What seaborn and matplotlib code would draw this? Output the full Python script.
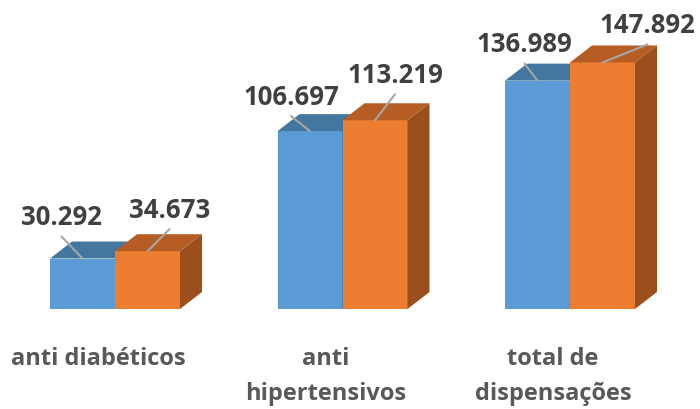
import matplotlib
matplotlib.use("Agg")
import matplotlib.pyplot as plt
import matplotlib.transforms as mtransforms
import matplotlib.colors as mcolors
from matplotlib.patches import Polygon
import seaborn as sns
import pandas as pd

# ---- data ----
categories = ["anti diabéticos", "anti\nhipertensivos", "total de\ndispensações"]
series_names = ["série 1", "série 2"]
values_s1 = [30292, 106697, 136989]
values_s2 = [34673, 113219, 147892]

# ---- style ----
front_colors = ["#5B9BD5", "#ED7D31"]
top_colors = ["#44779F", "#B55D24"]
side_colors = ["#3C6A93", "#9A4F1C"]
# label offsets in pixels (x right, y up) relative to the front top-centre of each bar
label_offsets = [[(-21, 42), (-19, 35), (-13, 37)],
                 [(22, 42), (20, 46), (45, 38)]]
depth_px = (22, 17)

rows = []
for c, v in zip(categories, values_s1):
    rows.append({"cat": c, "series": series_names[0], "value": v})
for c, v in zip(categories, values_s2):
    rows.append({"cat": c, "series": series_names[1], "value": v})
df = pd.DataFrame(rows)

sns.set_theme(style="white")
plt.rcParams["font.family"] = ["Open Sans", "DejaVu Sans"]

fig = plt.figure(figsize=(7, 4.1), dpi=100)
ax = fig.add_axes([0, 100 / 410, 1, 310 / 410])
sns.barplot(data=df, x="cat", y="value", hue="series", order=categories,
            hue_order=series_names, palette=front_colors, width=0.5714,
            saturation=1, legend=False, ax=ax, linewidth=0)

xlim = (-0.5055, 2.5714)
ylim = (0, 185960)
ax.set_xlim(*xlim)
ax.set_ylim(*ylim)
ddx = depth_px[0] / 700 * (xlim[1] - xlim[0])
ddy = depth_px[1] / 310 * (ylim[1] - ylim[0])

front_rgba = [mcolors.to_rgba(c) for c in front_colors]
bars = list(ax.patches)
counters = [0, 0]
for p in bars:
    fc = p.get_facecolor()
    s = min(range(2), key=lambda k: sum((a - b) ** 2 for a, b in zip(fc, front_rgba[k])))
    idx = counters[s]
    counters[s] += 1
    x0 = p.get_x()
    w = p.get_width()
    x1 = x0 + w
    h = p.get_height()
    z = 2 + s
    p.set_zorder(z)
    top = Polygon([(x0, h), (x1, h), (x1 + ddx, h + ddy), (x0 + ddx, h + ddy)],
                  closed=True, facecolor=top_colors[s], edgecolor="none", zorder=z + 0.1)
    side = Polygon([(x1, 0), (x1 + ddx, ddy), (x1 + ddx, h + ddy), (x1, h)],
                   closed=True, facecolor=side_colors[s], edgecolor="none", zorder=z + 0.1)
    ax.add_patch(top)
    ax.add_patch(side)
    xc = x0 + w / 2
    dx, dy = label_offsets[s][idx]
    txt = f"{int(h):,}".replace(",", ".")
    ax.annotate(txt, xy=(xc, h), xytext=(dx, dy), textcoords="offset pixels",
                ha="center", va="center", fontsize=18.5, fontweight="bold",
                color="#404040", zorder=10, annotation_clip=False)
    ax.annotate("", xy=(xc, h), xytext=(dx, dy - 20), textcoords="offset pixels",
                arrowprops=dict(arrowstyle="-", color="#A6A6A6", lw=1.5,
                                shrinkA=0, shrinkB=0),
                zorder=9, annotation_clip=False)

for sp in ax.spines.values():
    sp.set_visible(False)
ax.set_yticks([])
ax.set_xlabel("")
ax.set_ylabel("")
ax.set_xticks(range(len(categories)))
ax.set_xticklabels(categories, fontsize=17, fontweight="bold", color="#595959",
                   linespacing=1.6)
ax.tick_params(axis="x", length=0, pad=27)
shift = mtransforms.ScaledTranslation(-17 / 100, 0, fig.dpi_scale_trans)
for lab in ax.get_xticklabels():
    lab.set_transform(lab.get_transform() + shift)
ax.set_facecolor("white")
fig.patch.set_facecolor("white")

fig.savefig("out.png", dpi=100)
